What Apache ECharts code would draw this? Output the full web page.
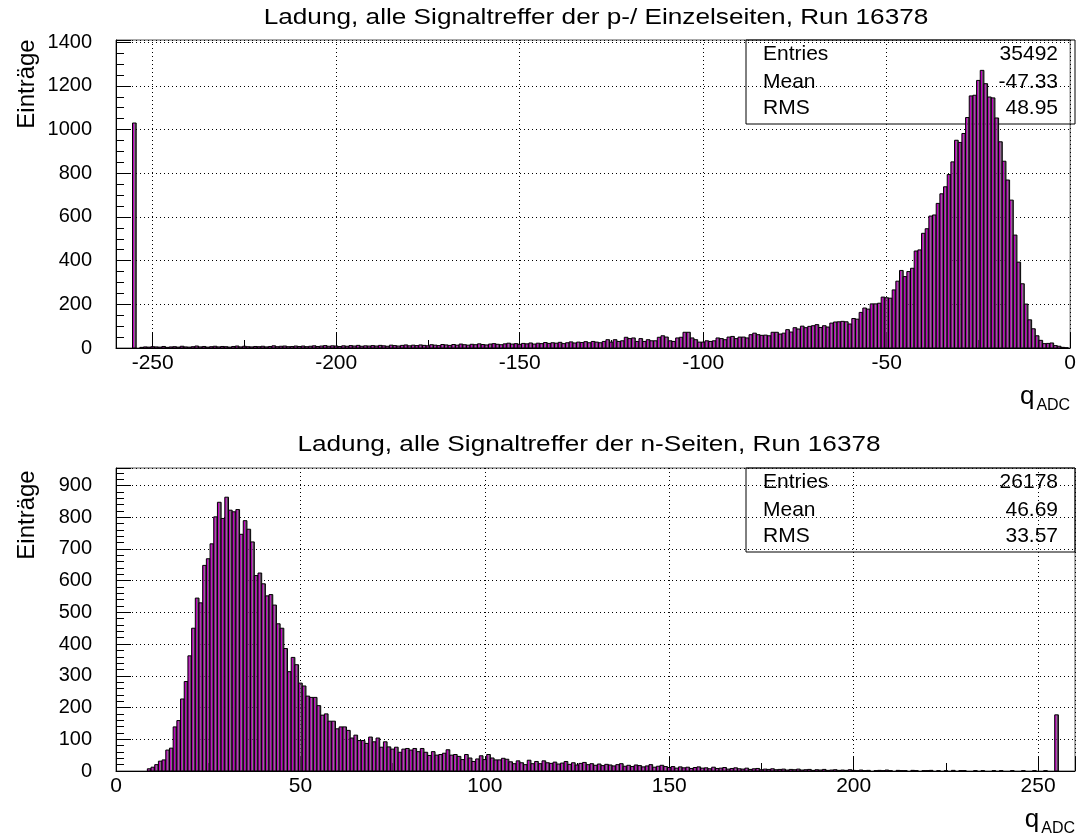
<!DOCTYPE html>
<html>
<head>
<meta charset="utf-8">
<script src="https://cdn.jsdelivr.net/npm/echarts@6/dist/echarts.min.js"></script>
<style>
  html, body { margin: 0; background: #fff; }
  #chart { width: 1079px; height: 837px; }
</style>
</head>
<body>
<div id="chart"></div>
<script>
// p-side charge histogram, one count per 1-ADC bin, first bin centred at pStart
const pStart = -260;
const pCounts = [
  0, 0, 0, 0, 0, 1030, 0, 3, 5, 4,
  6, 5, 4, 7, 3, 5, 6, 4, 8, 5,
  4, 6, 9, 5, 7, 4, 6, 8, 5, 7,
  6, 4, 7, 9, 5, 8, 6, 5, 7, 6,
  8, 5, 7, 10, 6, 8, 9, 6, 7, 9,
  7, 9, 6, 8, 10, 7, 9, 11, 8, 10,
  9, 7, 10, 8, 11, 9, 12, 8, 10, 9,
  11, 9, 12, 10, 8, 13, 11, 9, 12, 14,
  10, 13, 11, 14, 12, 10, 15, 13, 11, 16,
  14, 12, 16, 13, 18, 15, 13, 17, 15, 19,
  16, 14, 18, 20, 17, 15, 19, 22, 18, 20,
  17, 21, 19, 23, 18, 22, 20, 25, 21, 24,
  22, 26, 20, 24, 28, 23, 27, 25, 29, 24, 30, 27,
  // -128 .. -81
  24, 30, 38, 27, 38, 30, 33, 49, 43, 46,
  30, 43, 30, 38, 33, 33, 49, 56, 50, 33,
  30, 46, 49, 72, 72, 46, 38, 27, 27, 33,
  30, 33, 46, 43, 38, 50, 53, 43, 50, 50,
  46, 61, 68, 61, 58, 59, 56, 72,
  // -80 .. -59
  72, 64, 68, 84, 73, 93, 87, 100, 93, 99, 102,
  107, 94, 102, 96, 114, 119, 120, 122, 120, 110, 135,
  // -58 .. 0
  132, 163, 183, 178, 202, 202, 205, 233, 230, 228,
  266, 306, 355, 327, 350, 365, 444, 449, 525, 546,
  604, 609, 662, 706, 738, 794, 852, 951, 941, 982,
  1055, 1154, 1157, 1225, 1271, 1210, 1149, 1145, 1053, 944,
  855, 769, 677, 517, 393, 294, 201, 129, 88, 56,
  35, 20, 21, 23, 11, 8, 3, 1, 0
];

// n-side charge histogram, first bin centred at nStart
const nStart = 0;
const nCounts = [
  0, 0, 0, 0, 0, 0, 0, 0, 0, 7,
  12, 20, 31, 35, 66, 72, 139, 159, 227, 282,
  363, 450, 545, 530, 648, 669, 716, 801, 847, 796,
  863, 822, 817, 824, 746, 789, 762, 722, 616, 624,
  590, 552, 556, 523, 464, 450, 386, 313, 358, 335,
  277, 268, 236, 232, 232, 206, 176, 180, 157, 157,
  133, 139, 139, 128, 104, 113, 96, 96, 87, 107,
  92, 104, 75, 92, 76, 69, 75, 59, 69, 71,
  66, 71, 61, 71, 59, 49, 61, 50, 52, 56,
  67, 50, 52, 46, 36, 52, 41, 30, 38, 48,
  36, 52, 41, 35, 35, 40, 37, 29, 23, 32,
  26, 20, 34, 23, 30, 23, 32, 26, 24, 28,
  22, 25, 30, 21, 26, 19, 24, 27, 20, 23,
  18, 22, 17, 21, 19, 16, 20, 23, 15, 18,
  14, 19, 17, 13, 16, 20, 12, 15, 18, 14,
  11, 14, 9, 13, 10, 12, 8, 11, 13, 9,
  10, 7, 12, 8, 9, 11, 6, 8, 10, 7,
  6, 9, 5, 7, 8, 4, 6, 5, 7, 4,
  5, 6, 3, 5, 4, 6, 3, 4, 5, 2,
  4, 3, 5, 2, 3, 4, 2, 3, 2, 4,
  2, 1, 3, 1, 2, 0, 1, 2, 1, 3,
  1, 0, 2, 1, 1, 0, 2, 1, 0, 1,
  1, 2, 0, 1, 0, 1, 0, 2, 0, 1,
  1, 0, 0, 1, 0, 1, 0, 0, 1, 0,
  1, 0, 0, 1, 0, 0, 1, 0, 0, 1,
  0, 0, 1, 0, 0, 177, 0, 0, 0, 0, 0
];

const statNames = ['Entries', 'Mean', 'RMS'];
const pStats = ['35492', '-47.33', '48.95'];
const nStats = ['26178', '46.69', '33.57'];

const pTitle = 'Ladung, alle Signaltreffer der p-/ Einzelseiten, Run 16378';
const nTitle = 'Ladung, alle Signaltreffer der n-Seiten, Run 16378';

const FONT = '"Liberation Sans", Arial, Helvetica, sans-serif';

function toBins(start, counts) {
  return counts.map((c, i) => [start + i, c]);
}

function clip(r, cs) {
  return echarts.graphic.clipRectByRect(r, { x: cs.x, y: cs.y, width: cs.width, height: cs.height });
}

// ROOT "bar" look: magenta left part, dark grey right part, black outline
function drawBin(params, api) {
  const x = api.value(0);
  const v = api.value(1);
  if (!v) return;
  const a = api.coord([x - 0.5, v]);
  const b = api.coord([x + 0.5, 0]);
  const cs = params.coordSys;
  const w = b[0] - a[0];
  const h = b[1] - a[1];
  const whole = clip({ x: a[0], y: a[1], width: w, height: h }, cs);
  if (!whole) return;
  const left = clip({ x: a[0], y: a[1], width: w * 0.5, height: h }, cs);
  const right = clip({ x: a[0] + w * 0.5, y: a[1], width: w * 0.5, height: h }, cs);
  const kids = [];
  if (left) kids.push({ type: 'rect', shape: left, style: { fill: '#c000c0' } });
  if (right) kids.push({ type: 'rect', shape: right, style: { fill: '#5a485a' } });
  kids.push({ type: 'rect', shape: whole, style: { fill: 'none', stroke: '#000', lineWidth: 1 } });
  return { type: 'group', children: kids };
}

const dotted = { color: '#000', width: 1, type: [1, 3] };

function xAxisFor(gridIndex, min, max, hideMin, hideMax) {
  return {
    type: 'value',
    gridIndex: gridIndex,
    min: min,
    max: max,
    splitNumber: 5,
    name: '{q|q}{s|ADC}',
    nameLocation: 'end',
    nameGap: 0,
    nameTextStyle: {
      align: 'right',
      verticalAlign: 'top',
      padding: [36, 0, 0, 0],
      rich: {
        q: { fontSize: 26, lineHeight: 26, fontFamily: FONT, color: '#000', verticalAlign: 'top' },
        s: { fontSize: 16, lineHeight: 16, fontFamily: FONT, color: '#000', verticalAlign: 'top', padding: [14, 0, 0, 2] }
      }
    },
    axisLine: { show: true, onZero: false, lineStyle: { color: '#000', width: 1 } },
    axisTick: { show: true, inside: true, length: 15, lineStyle: { color: '#000' } },
    minorTick: { show: true, splitNumber: 2, length: 8, lineStyle: { color: '#000' } },
    splitLine: { show: true, lineStyle: dotted },
    axisLabel: {
      color: '#000', fontSize: 21, fontFamily: FONT, margin: 5,
      showMinLabel: !hideMin, showMaxLabel: !hideMax,
      formatter: (v) => String(v)
    }
  };
}

function yAxisFor(gridIndex, max, interval, minorSplit) {
  return {
    type: 'value',
    gridIndex: gridIndex,
    min: 0,
    max: max,
    interval: interval,
    axisLine: { show: true, onZero: false, lineStyle: { color: '#000', width: 1 } },
    axisTick: { show: true, inside: true, length: 15, lineStyle: { color: '#000' } },
    minorTick: { show: true, splitNumber: minorSplit, length: 8, lineStyle: { color: '#000' } },
    splitLine: { show: true, lineStyle: dotted },
    axisLabel: {
      color: '#000', fontSize: 20, fontFamily: FONT, margin: 24,
      showMaxLabel: false,
      formatter: (v) => String(v)
    }
  };
}

function statsBox(top, values) {
  const children = [{
    type: 'rect',
    shape: { x: 746, y: top, width: 329, height: 84 },
    style: { fill: 'none', stroke: '#000', lineWidth: 1 }
  }];
  const rowY = [14, 42, 68];
  statNames.forEach((name, i) => {
    children.push({
      type: 'text', x: 763, y: top + rowY[i],
      style: { text: name, font: '21px ' + FONT, fill: '#000', align: 'left', verticalAlign: 'middle' }
    });
    children.push({
      type: 'text', x: 1058, y: top + rowY[i],
      style: { text: values[i], font: '21px ' + FONT, fill: '#000', align: 'right', verticalAlign: 'middle' }
    });
  });
  return { type: 'group', z: 10, children: children };
}

function titleText(x, y, text) {
  return {
    type: 'text', x: x, y: y, scaleX: 1.19,
    style: { text: text, font: '22px ' + FONT, fill: '#000', align: 'center', verticalAlign: 'middle' }
  };
}

function yName(y) {
  return {
    type: 'text', x: 27, y: y, rotation: Math.PI / 2,
    style: { text: 'Einträge', font: '24px ' + FONT, fill: '#000', align: 'center', verticalAlign: 'middle' }
  };
}

const option = {
  animation: false,
  backgroundColor: '#fff',
  grid: [
    { left: 116, right: 4, top: 40, bottom: 489, show: true, borderColor: '#555', borderWidth: 1 },
    { left: 116, right: 4, top: 468, bottom: 60, show: true, borderColor: '#555', borderWidth: 1 }
  ],
  xAxis: [
    xAxisFor(0, pStart, 0, true, false),
    xAxisFor(1, nStart, 260, false, true)
  ],
  yAxis: [
    yAxisFor(0, 1410, 200, 4),
    yAxisFor(1, 955, 100, 5)
  ],
  series: [
    {
      type: 'custom', name: 'p', xAxisIndex: 0, yAxisIndex: 0,
      renderItem: drawBin, encode: { x: 0, y: 1 },
      data: toBins(pStart, pCounts)
    },
    {
      type: 'custom', name: 'n', xAxisIndex: 1, yAxisIndex: 1,
      renderItem: drawBin, encode: { x: 0, y: 1 },
      data: toBins(nStart, nCounts)
    }
  ],
  graphic: [
    titleText(596, 18, pTitle),
    titleText(589, 445, nTitle),
    yName(84),
    yName(515),
    statsBox(40, pStats),
    statsBox(468, nStats)
  ]
};

const chart = echarts.init(document.getElementById('chart'));
chart.setOption(option);
</script>
</body>
</html>
